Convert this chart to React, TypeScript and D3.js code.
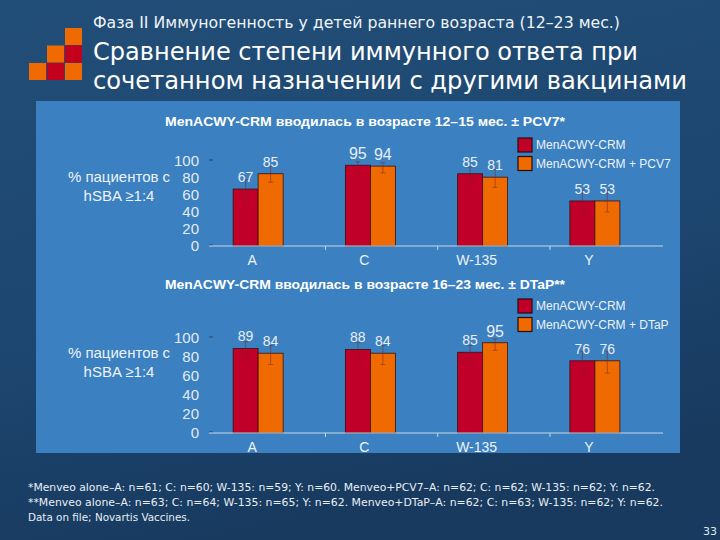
import React from "react";
import * as d3 from "d3";

const categories = ["A", "C", "W-135", "Y"];
const yTicks = [0, 20, 40, 60, 80, 100];

const chart1Title = "MenACWY-CRM вводилась в возрасте 12–15 мес. ± PCV7*";
const chart1Series = ["MenACWY-CRM", "MenACWY-CRM + PCV7"];
const chart1Alone = [67, 95, 85, 53];
const chart1AloneLo = [55, 87, 74, 40];
const chart1AloneHi = [78, 99, 93, 66];
const chart1Combo = [85, 94, 81, 53];
const chart1ComboLo = [75, 86, 69, 40];
const chart1ComboHi = [94, 98, 90, 66];

const chart2Title = "MenACWY-CRM вводилась в возрасте 16–23 мес. ± DTaP**";
const chart2Series = ["MenACWY-CRM", "MenACWY-CRM + DTaP"];
const chart2Alone = [89, 88, 85, 76];
const chart2AloneLo = [78, 78, 74, 63];
const chart2AloneHi = [96, 95, 92, 86];
const chart2Combo = [84, 84, 95, 76];
const chart2ComboLo = [72, 72, 87, 63];
const chart2ComboHi = [92, 92, 99, 86];

const yTitle = ["% пациентов с", "hSBA ≥1:4"];

const headerLines = [
  "Фаза II Иммуногенность у детей раннего возраста (12–23 мес.)",
  "Сравнение степени иммунного ответа при",
  "сочетанном назначении с другими вакцинами",
];
const footnotes = [
  "*Menveo alone–A: n=61; C: n=60; W-135: n=59; Y: n=60. Menveo+PCV7–A: n=62; C: n=62; W-135: n=62; Y: n=62.",
  "**Menveo alone–A: n=63; C: n=64; W-135: n=65; Y: n=62. Menveo+DTaP–A: n=62; C: n=63; W-135: n=62; Y: n=62.",
  "Data on file; Novartis Vaccines.",
];
const pageNumber = "33";

const RED = "#c10029";
const ORANGE = "#ef6a00";
const TXT = "#eef3f8";
const ARIAL = "'Liberation Sans', Arial, sans-serif";
const TAHOMA = "'DejaVu Sans', Verdana, sans-serif";

type ChartProps = {
  title: string;
  series: string[];
  alone: number[];
  aloneLo: number[];
  aloneHi: number[];
  combo: number[];
  comboLo: number[];
  comboHi: number[];
  yZero: number;
  yHundred: number;
  titleY: number;
  legendY: number;
  yTitleY: number;
};

function BarChart(p: ChartProps) {
  const x = d3.scaleBand<string>().domain(categories).range([202, 651]).padding(0);
  const y = d3.scaleLinear().domain([0, 100]).range([p.yZero, p.yHundred]);
  const bw = x.bandwidth();
  const barW = 25;
  const groups = [
    { vals: p.alone, lo: p.aloneLo, hi: p.aloneHi, color: RED, off: -barW },
    { vals: p.combo, lo: p.comboLo, hi: p.comboHi, color: ORANGE, off: 0 },
  ];
  return (
    <g>
      <text x={365} y={p.titleY} textAnchor="middle" fontFamily={ARIAL} fontWeight="bold"
        fontSize={12.5} fill="#ffffff" textLength={400} lengthAdjust="spacingAndGlyphs">
        {p.title}
      </text>
      {yTitle.map((t, i) => (
        <text key={t} x={119} y={p.yTitleY + i * 18.5}
          textAnchor="middle" fontFamily={ARIAL} fontSize={15} fill={TXT}>
          {t}
        </text>
      ))}
      {yTicks.map((t) => (
        <text key={t} x={199} y={y(t)} dy="0.36em" textAnchor="end" fontFamily={ARIAL}
          fontSize={15} fill="#e3eaf2">
          {t}
        </text>
      ))}
      {[0, 100].map((t) => (
        <line key={t} x1={209} x2={213} y1={y(t) - 1} y2={y(t) - 1} stroke="#222" strokeWidth={1} opacity={0.6} />
      ))}
      {groups.map((g, gi) =>
        categories.map((c, i) => {
          const cx = (x(c) as number) + bw / 2;
          return (
            <rect key={`${gi}-${c}`} x={cx + g.off} y={y(g.vals[i])} width={barW}
              height={y(0) - y(g.vals[i])} fill={g.color} stroke="#3a1010" strokeWidth={0.8} />
          );
        })
      )}
      {groups.map((g, gi) =>
        categories.map((c, i) => {
          const ex = (x(c) as number) + bw / 2 + g.off + barW / 2;
          return (
            <g key={`e${gi}-${c}`} stroke="#7a2418" strokeWidth={0.8} opacity={0.6}>
              <line x1={ex} x2={ex} y1={y(g.lo[i])} y2={y(g.hi[i])} />
              <line x1={ex - 2.5} x2={ex + 2.5} y1={y(g.lo[i])} y2={y(g.lo[i])} />
              <line x1={ex - 2.5} x2={ex + 2.5} y1={y(g.hi[i])} y2={y(g.hi[i])} />
            </g>
          );
        })
      )}
      {groups.map((g, gi) =>
        categories.map((c, i) => {
          const lx = (x(c) as number) + bw / 2 + g.off + barW / 2;
          const big = g.vals[i] >= 94;
          return (
            <text key={`v${gi}-${c}`} x={lx} y={y(g.vals[i]) - 12} dy="0.36em" textAnchor="middle"
              fontFamily={ARIAL} fontSize={big ? 16 : 14} fill="#e8eef5">
              {g.vals[i]}
            </text>
          );
        })
      )}
      <line x1={209} x2={663} y1={y(0)} y2={y(0)} stroke="#c9d6e3" strokeWidth={1.2} />
      {categories.slice(0, 3).map((c) => {
        const tx = (x(c) as number) + bw * 1.1;
        return <line key={`t${c}`} x1={tx} x2={tx} y1={y(0)} y2={y(0) + 4} stroke="#c9d6e3" strokeWidth={1} />;
      })}
      {categories.map((c) => (
        <text key={`c${c}`} x={(x(c) as number) + bw / 2 - 6} y={y(0) + 14} dy="0.36em"
          textAnchor="middle" fontFamily={ARIAL} fontSize={14} fill={TXT}>
          {c}
        </text>
      ))}
      {p.series.map((s, i) => (
        <g key={s}>
          <rect x={518} y={p.legendY + i * 18.5} width={14} height={14}
            fill={i === 0 ? RED : ORANGE} stroke="#2a0a0a" strokeWidth={1.2} />
          <text x={536} y={p.legendY + i * 18.5 + 7} dy="0.36em" fontFamily={ARIAL}
            fontSize={12} fill={TXT}>
            {s}
          </text>
        </g>
      ))}
    </g>
  );
}

export default function App() {
  const logo = [
    { c: 2, r: 0, col: ORANGE },
    { c: 1, r: 1, col: ORANGE },
    { c: 2, r: 1, col: "#c4001f" },
    { c: 0, r: 2, col: ORANGE },
    { c: 1, r: 2, col: "#c4001f" },
    { c: 2, r: 2, col: ORANGE },
  ];
  return (
    <svg width={720} height={540} style={{ position: "fixed", left: 0, top: 0 }}
      xmlns="http://www.w3.org/2000/svg">
      <defs>
        <linearGradient id="bg" x1="0" y1="0" x2="0.3" y2="1">
          <stop offset="0" stopColor="#214e78" />
          <stop offset="0.6" stopColor="#1d4670" />
          <stop offset="1" stopColor="#183a5f" />
        </linearGradient>
      </defs>
      <rect x={0} y={0} width={720} height={540} fill="url(#bg)" />
      {logo.map((s, i) => (
        <rect key={i} x={29 + s.c * 18} y={28 + s.r * 17.5} width={17} height={17} fill={s.col} />
      ))}
      <text x={93} y={28} fontFamily={TAHOMA} fontSize={15} fill="#eef3f8" textLength={527}
        lengthAdjust="spacingAndGlyphs">{headerLines[0]}</text>
      <text x={93} y={60} fontFamily={TAHOMA} fontSize={24.5} fill="#ffffff" textLength={545}
        lengthAdjust="spacingAndGlyphs">{headerLines[1]}</text>
      <text x={93} y={89} fontFamily={TAHOMA} fontSize={24.5} fill="#ffffff" textLength={594}
        lengthAdjust="spacingAndGlyphs">{headerLines[2]}</text>

      <rect x={36} y={101} width={644} height={352} fill="#3b80c0" />

      <BarChart title={chart1Title} series={chart1Series} alone={chart1Alone} aloneLo={chart1AloneLo}
        aloneHi={chart1AloneHi} combo={chart1Combo} comboLo={chart1ComboLo} comboHi={chart1ComboHi}
        yZero={246} yHundred={161} titleY={126} legendY={138} yTitleY={182} />
      <BarChart title={chart2Title} series={chart2Series} alone={chart2Alone} aloneLo={chart2AloneLo}
        aloneHi={chart2AloneHi} combo={chart2Combo} comboLo={chart2ComboLo} comboHi={chart2ComboHi}
        yZero={433} yHundred={338} titleY={289} legendY={299} yTitleY={358} />

      {footnotes.map((f, i) => (
        <text key={i} x={28} y={491 + i * 15} fontFamily={TAHOMA} fontSize={11} fill="#e8eef5"
          textLength={[627, 635, 162][i]} lengthAdjust="spacingAndGlyphs">{f}</text>
      ))}
      <text x={710} y={535} textAnchor="middle" fontFamily={TAHOMA} fontSize={11} fill="#dfe7f0">
        {pageNumber}
      </text>
    </svg>
  );
}
